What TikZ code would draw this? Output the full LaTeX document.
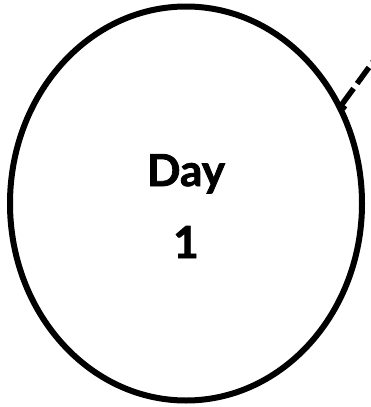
\documentclass[tikz,border=0pt]{standalone}
\usepackage{fontspec}
\newfontfamily\dayfont[BoldFeatures={FakeBold=1.8}]{Lato}
\usetikzlibrary{arrows.meta}
\begin{document}
\begin{tikzpicture}[x=1pt,y=-1pt,
  daylabel/.style={font=\dayfont\bfseries\fontsize{44}{72}\selectfont,align=center,text=black},
  link/.style={line width=5.5pt,dash pattern=on 20pt off 6pt}]
\useasboundingbox (0,0) rectangle (370,407);
\draw[line width=6pt] (186,203.5) ellipse [x radius=176, y radius=197];
\node[daylabel,anchor=base] (d) at (186,186) {Day};
\node[daylabel,anchor=base] (one) at (186,258) {1};
\coordinate (s) at (340,107);
\coordinate (e) at (378,55);
\draw[link,{Bar[width=12pt,line width=4pt]}-] (s) -- (e);
\end{tikzpicture}
\end{document}
